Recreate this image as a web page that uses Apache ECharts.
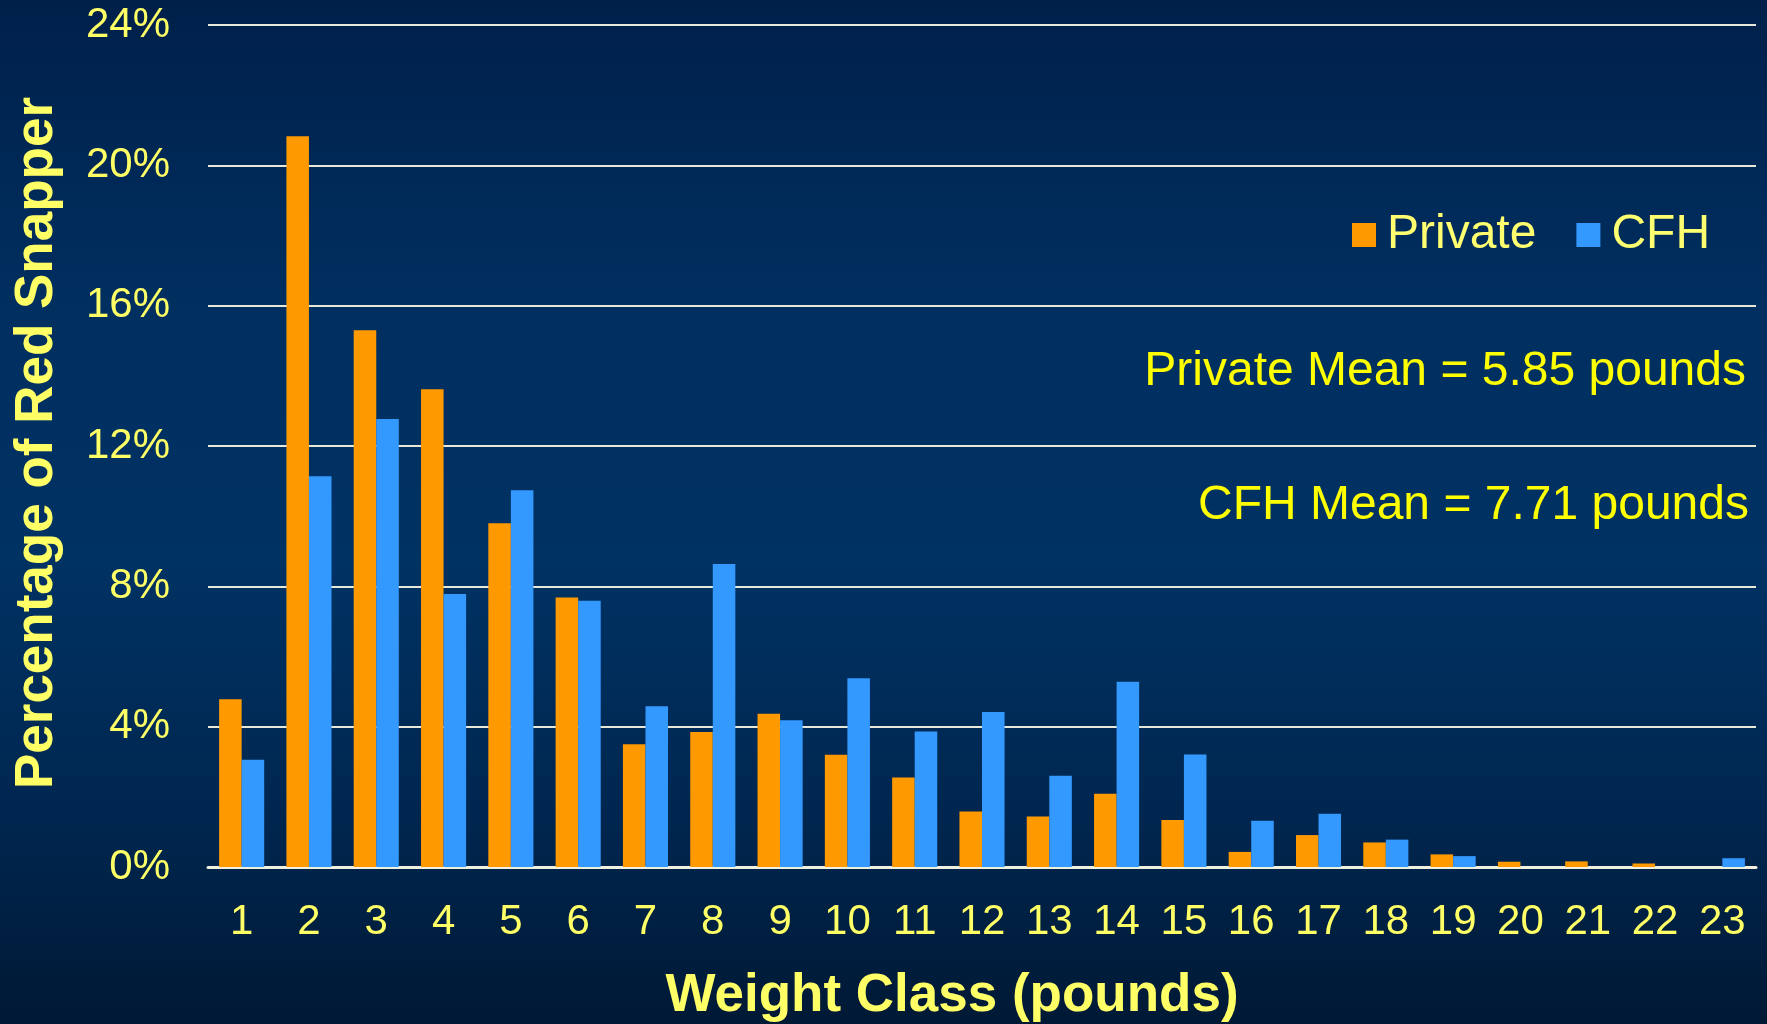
<!DOCTYPE html>
<html>
<head>
<meta charset="utf-8">
<script src="https://cdn.jsdelivr.net/npm/echarts@6/dist/echarts.min.js"></script>
<style>
  html, body { margin: 0; padding: 0; background: #002A57; }
  #chart { width: 1767px; height: 1024px; }
</style>
</head>
<body>
<div id="chart"></div>
<script>
const categories = ['1','2','3','4','5','6','7','8','9','10','11','12','13','14','15','16','17','18','19','20','21','22','23'];
const privateValues = [4.78, 20.83, 15.30, 13.62, 9.80, 7.68, 3.50, 3.85, 4.37, 3.20, 2.55, 1.58, 1.44, 2.09, 1.34, 0.43, 0.91, 0.70, 0.36, 0.15, 0.16, 0.10, 0];
const cfhValues = [3.06, 11.14, 12.77, 7.78, 10.74, 7.59, 4.58, 8.64, 4.18, 5.38, 3.86, 4.42, 2.60, 5.28, 3.21, 1.32, 1.52, 0.78, 0.31, 0, 0, 0, 0.25];
const seriesNames = ['Private', 'CFH'];
const meanTexts = ['Private Mean = 5.85 pounds', 'CFH Mean = 7.71 pounds'];
const yAxisTitle = 'Percentage of Red Snapper';
const xAxisTitle = 'Weight Class (pounds)';

const FONT = "'Liberation Sans', Arial, Helvetica, sans-serif";
const chart = echarts.init(document.getElementById('chart'), null, { renderer: 'canvas' });

const option = {
  animation: false,
  backgroundColor: {
    type: 'linear', x: 0, y: 0, x2: 0, y2: 1,
    colorStops: [
      { offset: 0, color: '#00204A' },
      { offset: 0.3, color: '#002F60' },
      { offset: 0.55, color: '#003263' },
      { offset: 0.8, color: '#00264F' },
      { offset: 1, color: '#001935' }
    ]
  },
  grid: { left: 208, right: 11, top: 25, bottom: 157, containLabel: false },
  legend: {
    data: seriesNames,
    icon: 'rect',
    itemWidth: 24,
    itemHeight: 24,
    itemGap: 40,
    left: 1347,
    top: 206,
    textStyle: { color: '#FFFF70', fontSize: 48, fontFamily: FONT, padding: [0, 0, 0, 6] }
  },
  xAxis: {
    type: 'category',
    data: categories,
    axisLine: { show: true, lineStyle: { color: '#F0F0E0', width: 3 } },
    axisTick: { show: false },
    axisLabel: { color: '#FFFF66', fontSize: 42, fontFamily: FONT, margin: 34, interval: 0 },
    splitLine: { show: false }
  },
  yAxis: {
    type: 'value',
    min: 0,
    max: 24,
    interval: 4,
    axisLine: { show: false },
    axisTick: { show: false },
    axisLabel: { color: '#FFFF66', fontSize: 42, fontFamily: FONT, margin: 38, formatter: v => v + '%' },
    splitLine: { show: true, lineStyle: { color: '#E8E8D8', width: 2 } }
  },
  graphic: [
    {
      type: 'text', x: 37, y: 443, rotation: Math.PI / 2,
      style: { text: yAxisTitle, fill: '#FFFF66', font: "bold 53px " + FONT, align: 'center', verticalAlign: 'middle' }
    },
    {
      type: 'text', x: 952, y: 996,
      style: { text: xAxisTitle, fill: '#FFFF66', font: "bold 53px " + FONT, align: 'center', verticalAlign: 'middle' }
    },
    {
      type: 'text', x: 1746, y: 372,
      style: { text: meanTexts[0], fill: '#FFFF00', font: "48px " + FONT, align: 'right', verticalAlign: 'middle' }
    },
    {
      type: 'text', x: 1749, y: 506,
      style: { text: meanTexts[1], fill: '#FFFF00', font: "48px " + FONT, align: 'right', verticalAlign: 'middle' }
    }
  ],
  series: [
    {
      name: seriesNames[0], type: 'bar', data: privateValues,
      barGap: '0%', barCategoryGap: '33%',
      itemStyle: { color: '#FF9900', borderWidth: 0 }
    },
    {
      name: seriesNames[1], type: 'bar', data: cfhValues,
      barGap: '0%', barCategoryGap: '33%',
      itemStyle: { color: '#3399FF', borderWidth: 0 }
    }
  ]
};
chart.setOption(option);
</script>
</body>
</html>
